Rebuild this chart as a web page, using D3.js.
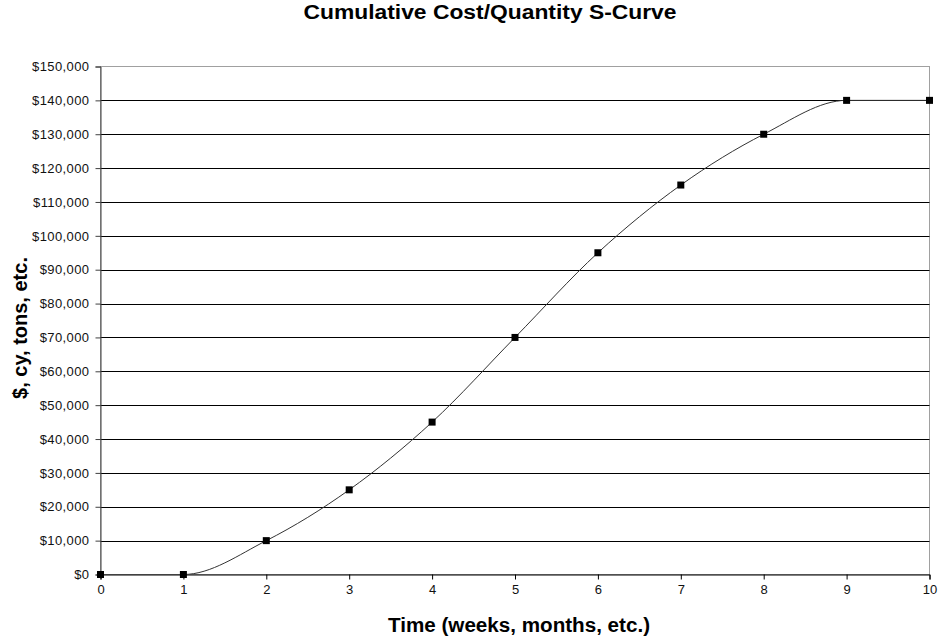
<!DOCTYPE html>
<html><head><meta charset="utf-8">
<script src="https://cdn.jsdelivr.net/npm/d3@7"></script>
<style>body{margin:0;background:#fff}svg{display:block}</style>
</head><body>
<svg id="c" width="938" height="636"></svg>
<script>
const periods = [0,1,2,3,4,5,6,7,8,9,10];
const cumulative = [0,0,10000,25000,45000,70000,95000,115000,130000,140000,140000];
const yTicks = [0,10000,20000,30000,40000,50000,60000,70000,80000,90000,100000,110000,120000,130000,140000,150000];
const xTicks = [0,1,2,3,4,5,6,7,8,9,10];
const title = "Cumulative Cost/Quantity S-Curve";
const xTitle = "Time (weeks, months, etc.)";
const yTitle = "$, cy, tons, etc.";

const svg = d3.select("#c");
const L=100.5, R=929.5, T=66.5, B=574.5;
const x = d3.scaleLinear().domain([0,10]).range([L,R]);
const y = d3.scaleLinear().domain([0,150000]).range([B,T]);
const font = "Arial, 'Liberation Sans', sans-serif";

// plot border (top/right gray)
svg.append("rect").attr("x",L).attr("y",T).attr("width",R-L).attr("height",B-T)
  .attr("fill","none").attr("stroke","#a0a0a0").attr("stroke-width",1);

// gridlines
svg.append("g").selectAll("line").data(yTicks.filter(d=>d>0 && d<150000)).join("line")
  .attr("x1",L).attr("x2",R).attr("y1",d=>Math.round(y(d))+0.5).attr("y2",d=>Math.round(y(d))+0.5)
  .attr("stroke","#000").attr("stroke-width",1);

// y axis
const ya = svg.append("g").attr("transform",`translate(${L},0)`)
  .call(d3.axisLeft(y).tickValues(yTicks).tickSize(5).tickPadding(6)
    .tickFormat(d=>"$"+d3.format(",")(d)));
ya.select(".domain").attr("stroke","#404040");
ya.selectAll(".tick line").attr("stroke","#404040");
ya.selectAll("text").attr("font-family",font).attr("font-size","13px").attr("letter-spacing","0.4px").attr("fill","#111");

// x axis
const xa = svg.append("g").attr("transform",`translate(0,${B})`)
  .call(d3.axisBottom(x).tickValues(xTicks).tickSize(5).tickPadding(5));
xa.select(".domain").attr("stroke","#000");
xa.selectAll(".tick line").attr("stroke","#000");
xa.selectAll("text").attr("font-family",font).attr("font-size","13px").attr("fill","#111");

const pts = periods.map((p,i)=>[p,cumulative[i]]);
svg.append("defs").append("clipPath").attr("id","pc").append("rect")
  .attr("x",L).attr("y",T).attr("width",R-L).attr("height",B-T);
svg.append("path").datum(pts).attr("clip-path","url(#pc)")
  .attr("d",d3.line().x(d=>x(d[0])).y(d=>y(d[1])).curve(d3.curveMonotoneX))
  .attr("fill","none").attr("stroke","#333").attr("stroke-width",1);

svg.append("g").selectAll("rect").data(pts).join("rect")
  .attr("x",d=>x(d[0])-3.5).attr("y",d=>y(d[1])-3.5).attr("width",7).attr("height",7)
  .attr("fill","#000");

svg.append("text").attr("x",490).attr("y",19).attr("text-anchor","middle")
  .attr("font-family",font).attr("font-weight","bold").attr("font-size","20px")
  .attr("textLength",373).attr("lengthAdjust","spacingAndGlyphs").text(title);
svg.append("text").attr("x",519).attr("y",632).attr("text-anchor","middle")
  .attr("font-family",font).attr("font-weight","bold").attr("font-size","20px")
  .attr("textLength",262).attr("lengthAdjust","spacingAndGlyphs").text(xTitle);
svg.append("text").attr("transform","translate(27,328) rotate(-90)").attr("text-anchor","middle")
  .attr("font-family",font).attr("font-weight","bold").attr("font-size","20px").text(yTitle);
</script>
</body></html>
